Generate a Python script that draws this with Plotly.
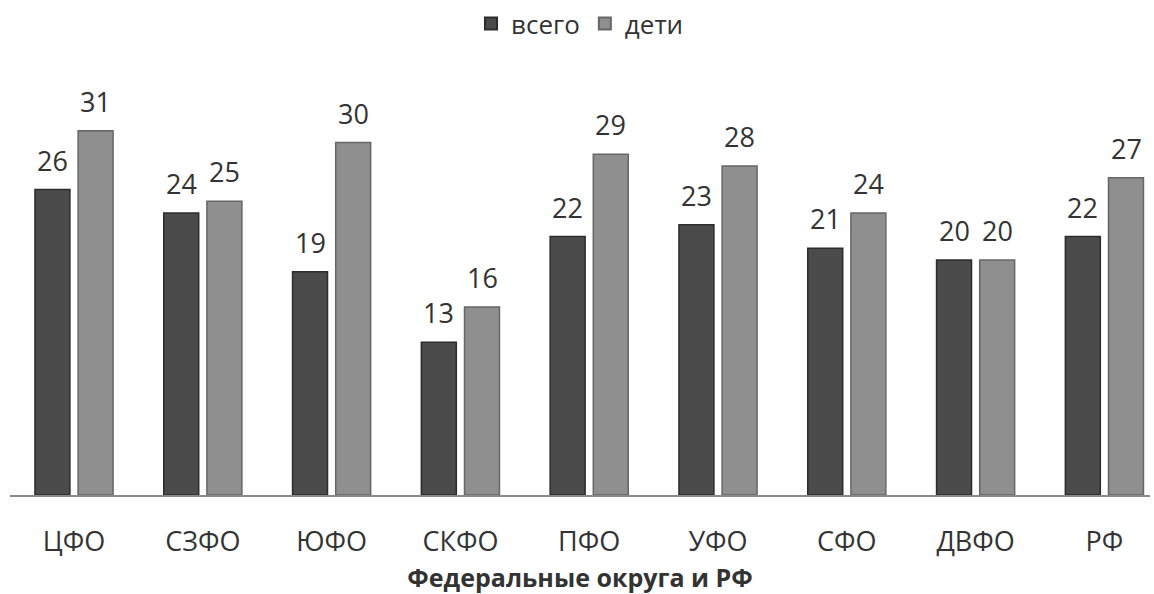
import plotly.graph_objects as go

# Federal districts and the Russian Federation total
districts = ["ЦФО", "СЗФО", "ЮФО", "СКФО", "ПФО", "УФО", "СФО", "ДВФО", "РФ"]
total_values = [26, 24, 19, 13, 22, 23, 21, 20, 22]
children_values = [31, 25, 30, 16, 29, 28, 24, 20, 27]

series_names = ["всего", "дети"]
axis_title = "Федеральные округа и РФ"

FONT = "Open Sans, Liberation Sans, sans-serif"
TEXT_COLOR = "#333333"

fig = go.Figure()
fig.add_trace(go.Bar(
    name=series_names[0], x=districts, y=total_values,
    marker=dict(color="#4b4b4b", line=dict(color="#2c2c2c", width=1.5)),
))
fig.add_trace(go.Bar(
    name=series_names[1], x=districts, y=children_values,
    marker=dict(color="#8f8f8f", line=dict(color="#666666", width=1.5)),
))

# value labels above each bar
group_offset = 21.6
for i, d in enumerate(districts):
    for vals, shift in ((total_values, -group_offset), (children_values, group_offset)):
        fig.add_annotation(
            x=d, y=vals[i], text=str(vals[i]), showarrow=False,
            xshift=shift, yshift=9, yanchor="bottom",
            font=dict(family=FONT, size=27, color=TEXT_COLOR),
        )

fig.update_layout(
    width=1154, height=594,
    margin=dict(l=10, r=4, t=95, b=99),
    paper_bgcolor="white", plot_bgcolor="white",
    barmode="group", bargap=0.33, bargroupgap=0.19,
    font=dict(family=FONT, color=TEXT_COLOR),
    legend=dict(
        orientation="h", x=0.5, xanchor="center", y=1.0, yanchor="top",
        yref="container", font=dict(size=26, color=TEXT_COLOR),
        itemsizing="constant",
    ),
    xaxis=dict(
        type="category", range=[-0.497, 8.354],
        showline=True, linecolor="#8a8a8a", linewidth=1.5,
        showgrid=False, ticks="outside", ticklen=22, tickcolor="rgba(0,0,0,0)",
        tickfont=dict(size=27, color=TEXT_COLOR),
        title=dict(text="<b>" + axis_title + "</b>", font=dict(size=25, color=TEXT_COLOR), standoff=14),
    ),
    yaxis=dict(range=[0, 34.05], visible=False, showgrid=False),
)

fig.write_html("out.html")
